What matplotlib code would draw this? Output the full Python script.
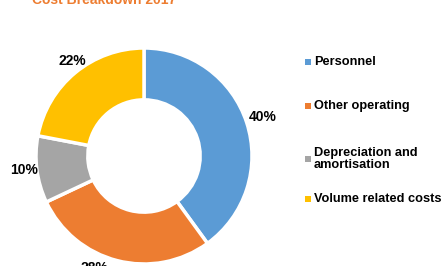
import numpy as np
import matplotlib
matplotlib.use("Agg")
import matplotlib.pyplot as plt
from matplotlib.patches import Rectangle

categories = ["Personnel", "Other operating", "Depreciation and\namortisation", "Volume related costs"]
values = [40, 28, 10, 22]
colors = ["#5B9BD5", "#ED7D31", "#A5A5A5", "#FFC000"]
title = "Cost Breakdown 2017"

plt.rcParams['font.family'] = ['Liberation Sans', 'DejaVu Sans']

W, H = 444, 266
fig = plt.figure(figsize=(W / 100, H / 100), dpi=100)

# donut: center (144,156) px, radius 108 px
cx, cy, r = 144, 156, 108
ax = fig.add_axes([(cx - r) / W, (H - cy - r) / H, 2 * r / W, 2 * r / H])
wedges, texts = ax.pie(values, colors=colors, startangle=90, counterclock=False,
                       labels=[f"{v}%" for v in values], labeldistance=1.13,
                       wedgeprops=dict(width=0.48, edgecolor="white", linewidth=2.5),
                       textprops=dict(fontsize=10, fontweight="bold", color="black"))
ax.set_xlim(-1, 1)
ax.set_ylim(-1, 1)
ax.set_aspect("equal")

# labels centred on their point; Excel nudged a couple of them
label_pos = {0: (1.16, 18), 1: (1.14, -114), 2: (1.12, -173.5), 3: (1.10, 127)}
for i, t in enumerate(texts):
    d, a = label_pos[i]
    t.set_position((d * np.cos(np.radians(a)), d * np.sin(np.radians(a))))
    t.set_ha("center")
    t.set_va("center")

# title, clipped at the top like the original
fig.text(32 / W, (H - 4) / H, title, color="#ED7D31", fontsize=10, fontweight="bold",
         ha="left", va="baseline")

# legend
leg_y = [62, 106, 159, 199]
for lab, col, y in zip(categories, colors, leg_y):
    fig.patches.append(Rectangle((305 / W, (H - y - 3) / H), 6 / W, 6 / H,
                                 transform=fig.transFigure, facecolor=col, edgecolor="none"))
    fig.text(314 / W, (H - y) / H, lab, fontsize=9.2, fontweight="bold", ha="left", va="center",
             linespacing=1.1)

fig.savefig("out.png", dpi=100)
